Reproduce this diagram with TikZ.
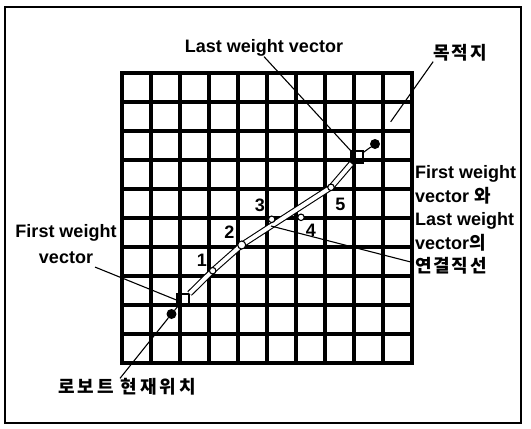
\documentclass[tikz,border=0pt]{standalone}
\usepackage{fontspec}
\setmainfont{Liberation Sans}
\newfontfamily\kr{Noto Sans CJK KR}[BoldFont={Noto Sans CJK KR Black}, LetterSpace=10]
\usetikzlibrary{positioning}

\begin{document}
\begin{tikzpicture}[x=1pt,y=-1pt]
        \tikzset{Txt/.style={font=\fontsize{18}{23.5}\selectfont\bfseries, inner sep=0pt},
        Kor/.style={font=\fontsize{18}{22}\selectfont\bfseries\kr, inner sep=0pt},
        Grid/.style={line width=3.2pt, line cap=rect},
        Pointer/.style={line width=1.1pt},
        Band/.style={line width=1.1pt, double=white, double distance=4pt, line join=round},
        Box/.style={draw, line width=1.2pt, minimum size=12pt, inner sep=0pt},
        Dot/.style={circle, fill, minimum size=10pt, inner sep=0pt},
        Wt/.style={circle, draw, fill=white, line width=1.1pt, minimum size=6.5pt, inner sep=0pt}}
        \useasboundingbox (0,0) rectangle (531,429);
        \draw[line width=1.2pt] (5,7) rectangle (521,423);
        \foreach \i in {0,...,10} {
            \draw[Grid] (122+29*\i,73) -- (122+29*\i,362);
            \draw[Grid] (122,73+29*\i) -- (412,73+29*\i);
        }
        \node[Dot] (Robot) at (171.5,314) {};
        \node[Box] (First) at (183,300) {};
        \node[Box] (Last) at (357,157) {};
        \node[Dot] (Goal) at (375,144) {};
        \coordinate (P1) at (212.7,270.7);
        \coordinate (P2) at (241.7,245);
        \coordinate (Bend) at (271,226);
        \coordinate (P5) at (331,187.3);
        \draw[Band] (First) -- (P1) -- (P2) -- (Bend) -- (P5) -- (Last);
        \draw[Pointer] (Robot) -- (First);
        \draw[Pointer] (Last) -- (Goal);
        \node[Wt] (W1) at (P1) {};
        \node[Wt, minimum size=8pt] (W2) at (P2) {};
        \node[Wt] (W3) at (271.7,219.3) {};
        \node[Wt] (W4) at (301,217.3) {};
        \node[Wt] (W5) at (P5) {};
        \node[Txt, above left=1pt and 3pt of W1] (N1) {1};
        \node[Txt, above left=3pt and 4pt of W2] (N2) {2};
        \node[Txt, above left=5pt and 4pt of W3] (N3) {3};
        \node[Txt, below right=4pt and 2pt of W4] (N4) {4};
        \node[Txt, below right=8pt and 1.5pt of W5] (N5) {5};
        % labels
        \node[Txt] (LastLbl) at (264,48) {Last weight vector};
        \node[Kor] (GoalLbl) at (460,53) {목적지};
        \node[Txt, align=center] (FirstLbl) at (66,244) {First weight\\[3pt]vector};
        \node[Kor, font=\fontsize{18}{22}\selectfont\bfseries\kr\addfontfeature{LetterSpace=16}] (RobotLbl) at (127,387) {로보트 현재위치};
        \node[Txt, align=left, anchor=west] (LinkLbl) at (415,220)
            {First weight\\vector {\kr 와}\\Last weight\\vector{\kr 의}\\{\kr 연결직선}};
        \draw[Pointer] (LastLbl.south) -- (Last.north west);
        \draw[Pointer, shorten >=22pt] (GoalLbl.south west) -- (Goal);
        \draw[Pointer] ([xshift=29pt,yshift=-3pt]FirstLbl.south) -- (First.west);
        \draw[Pointer] ([xshift=-7pt]RobotLbl.north) -- (Robot);
        \draw[Pointer] ([xshift=-2pt,yshift=12pt]LinkLbl.south west) -- (Bend);
    \end{tikzpicture}
\end{document}
